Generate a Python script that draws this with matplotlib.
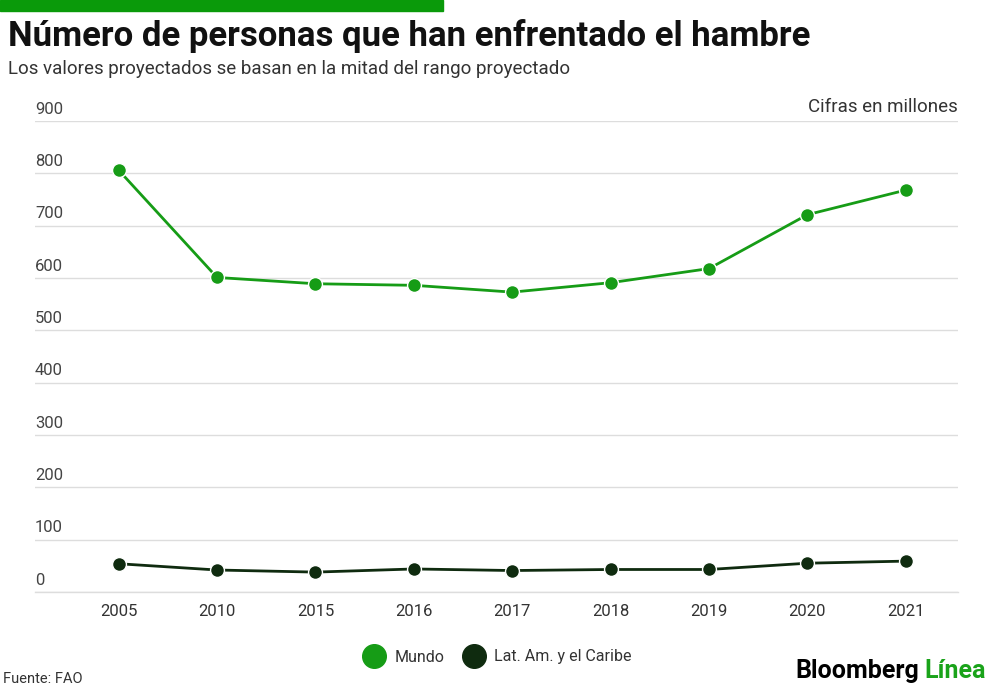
import numpy as np
import matplotlib.pyplot as plt
from matplotlib.lines import Line2D

plt.rcParams['font.family'] = ['Roboto', 'DejaVu Sans']

anios = ['2005', '2010', '2015', '2016', '2017', '2018', '2019', '2020', '2021']
mundo = [806, 601, 589, 586, 573, 591, 618, 721, 768]
latam = [54, 42, 38, 44, 41, 43, 43, 55, 59]
yticks = [0, 100, 200, 300, 400, 500, 600, 700, 800, 900]

verde = '#169c16'
verde_osc = '#0f2b0f'
gris = '#dddddd'

fig = plt.figure(figsize=(10, 6.89), dpi=100)
ax = fig.add_axes([0.035, 0.1408, 0.923, 0.6836])

x = np.arange(len(anios))
ax.plot(x, mundo, color=verde, lw=2, marker='o', ms=10, mfc=verde, mec='white', mew=1, zorder=3)
ax.plot(x, latam, color=verde_osc, lw=2, marker='o', ms=10, mfc=verde_osc, mec='white', mew=1, zorder=3)

ax.set_xlim(-0.85, 8.53)
ax.set_ylim(0, 900)
ax.set_yticks(yticks)
ax.yaxis.grid(True, color=gris, lw=1)
ax.axhline(0, color=gris, lw=1, clip_on=False, zorder=0)
ax.set_axisbelow(True)
ax.tick_params(axis='y', length=0, labelleft=False)
for v in yticks:
    ax.text(0, v + 8, str(v), transform=ax.get_yaxis_transform(), ha='left', va='bottom',
            fontsize=12, color='#444444')
ax.set_xticks(x)
ax.set_xticklabels(anios, fontsize=12, color='#333333')
ax.tick_params(axis='x', length=0, pad=9)
for s in ax.spines.values():
    s.set_visible(False)

ax.text(1, 1.01, 'Cifras en millones', transform=ax.transAxes, ha='right', va='bottom',
        fontsize=13.5, color='#333333')

# cabecera
fig.patches.append(plt.Rectangle((0, 1 - 11 / 689), 0.443, 11 / 689, transform=fig.transFigure,
                                 color='#0a9a0a', zorder=5))
fig.text(0.008, 1 - 46 / 689, 'Número de personas que han enfrentado el hambre', fontsize=25,
         fontweight='bold', color='#111111', ha='left', va='baseline')
fig.text(0.008, 1 - 74 / 689, 'Los valores proyectados se basan en la mitad del rango proyectado',
         fontsize=13.5, color='#333333', ha='left', va='baseline')

# leyenda
handles = [Line2D([], [], ls='none', marker='o', ms=17, mfc=verde, mec=verde),
           Line2D([], [], ls='none', marker='o', ms=17, mfc=verde_osc, mec=verde_osc)]
fig.legend(handles, ['Mundo', 'Lat. Am. y el Caribe'], loc='center', bbox_to_anchor=(0.495, 1 - 657 / 689),
           ncol=2, frameon=False, fontsize=11.5, handletextpad=0.3, columnspacing=0.8,
           labelcolor='#333333')

fig.text(0.003, 1 - 683 / 689, 'Fuente: FAO', fontsize=10.5, color='#333333', ha='left', va='baseline')
t = fig.text(0.795, 1 - 678 / 689, 'Bloomberg', fontsize=18, fontweight='bold', color='#000000',
             ha='left', va='baseline')
fig.canvas.draw()
bb = t.get_window_extent()
fig.text(bb.x1 / 1000 + 0.006, 1 - 678 / 689, 'Línea', fontsize=18, fontweight='bold', color='#1aa31a',
         ha='left', va='baseline')

fig.savefig('out.png', dpi=100)
